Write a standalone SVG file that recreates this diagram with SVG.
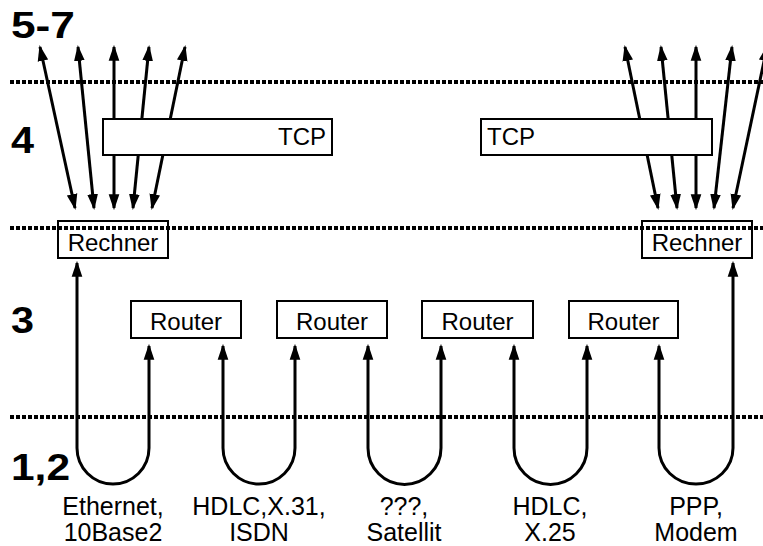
<svg xmlns="http://www.w3.org/2000/svg" width="763" height="546" viewBox="0 0 763 546">
<style>
.dot{stroke:#000;stroke-width:4;stroke-dasharray:4 2;fill:none}
.ln{stroke:#000;stroke-width:3;fill:none}
.box{stroke:#000;stroke-width:2;fill:#fff}
.boxn{stroke:#000;stroke-width:2;fill:none}
.t{font-family:"Liberation Sans",Arial,sans-serif;font-size:24px;fill:#000}
.lb{font-family:"Liberation Sans",Arial,sans-serif;font-size:25px;fill:#000}
.lv{font-family:"Liberation Sans",Arial,sans-serif;font-size:37px;font-weight:bold;fill:#000}
</style>
<defs>
<marker id="ah" markerUnits="userSpaceOnUse" markerWidth="16" markerHeight="12" refX="13" refY="5" orient="auto-start-reverse" viewBox="0 0 15 10">
<path d="M0,0 L15,5 L0,10 z" fill="#000"/>
</marker>
</defs>
<rect width="763" height="546" fill="#fff"/>
<g id="levels">
<text class="lv" x="11" y="38" textLength="64" lengthAdjust="spacingAndGlyphs">5-7</text>
<text class="lv" x="11" y="153" textLength="23" lengthAdjust="spacingAndGlyphs">4</text>
<text class="lv" x="11" y="333" textLength="23" lengthAdjust="spacingAndGlyphs">3</text>
<text class="lv" x="11" y="480" textLength="59" lengthAdjust="spacingAndGlyphs">1,2</text>
</g>
<g id="connectors">
<line class="ln" x1="40" y1="47" x2="75" y2="208" marker-start="url(#ah)" marker-end="url(#ah)"/>
<line class="ln" x1="78" y1="47" x2="94" y2="208" marker-start="url(#ah)" marker-end="url(#ah)"/>
<line class="ln" x1="114" y1="47" x2="114" y2="208" marker-start="url(#ah)" marker-end="url(#ah)"/>
<line class="ln" x1="149" y1="47" x2="133" y2="208" marker-start="url(#ah)" marker-end="url(#ah)"/>
<line class="ln" x1="185" y1="47" x2="152" y2="208" marker-start="url(#ah)" marker-end="url(#ah)"/>
<line class="ln" x1="625" y1="47" x2="658" y2="208" marker-start="url(#ah)" marker-end="url(#ah)"/>
<line class="ln" x1="661" y1="47" x2="677" y2="208" marker-start="url(#ah)" marker-end="url(#ah)"/>
<line class="ln" x1="696" y1="47" x2="696" y2="208" marker-start="url(#ah)" marker-end="url(#ah)"/>
<line class="ln" x1="732" y1="47" x2="714" y2="208" marker-start="url(#ah)" marker-end="url(#ah)"/>
<line class="ln" x1="767" y1="47" x2="733" y2="208" marker-start="url(#ah)" marker-end="url(#ah)"/>
<path class="ln" d="M77,263 V448 A36,36 0 0 0 149,448 V346" marker-start="url(#ah)" marker-end="url(#ah)"/>
<path class="ln" d="M223,346 V448 A36,36 0 0 0 295,448 V346" marker-start="url(#ah)" marker-end="url(#ah)"/>
<path class="ln" d="M368,346 V448 A36,36 0 0 0 441,448 V346" marker-start="url(#ah)" marker-end="url(#ah)"/>
<path class="ln" d="M514,346 V448 A36,36 0 0 0 587,448 V346" marker-start="url(#ah)" marker-end="url(#ah)"/>
<path class="ln" d="M659,346 V448 A37,36 0 0 0 733,448 V263" marker-start="url(#ah)" marker-end="url(#ah)"/>
</g>
<g id="tcp-left">
<rect class="box" x="103" y="119" width="229" height="36"/>
<text class="t" x="326" y="145" text-anchor="end">TCP</text>
</g>
<g id="tcp-right">
<rect class="box" x="481" y="119" width="231" height="36"/>
<text class="t" x="487" y="145">TCP</text>
</g>
<g id="dotted-lines">
<line class="dot" x1="10" y1="82" x2="763" y2="82"/>
<line class="dot" x1="10" y1="228" x2="763" y2="228"/>
<line class="dot" x1="10" y1="417" x2="763" y2="417"/>
</g>
<g id="rechner-left">
<rect class="boxn" x="58" y="221" width="110" height="37"/>
<text class="t" x="113" y="251" text-anchor="middle">Rechner</text>
</g>
<g id="rechner-right">
<rect class="boxn" x="642" y="221" width="110" height="37"/>
<text class="t" x="697" y="251" text-anchor="middle">Rechner</text>
</g>
<g id="router1">
<rect class="box" x="131" y="301" width="110" height="37"/>
<text class="t" x="186" y="330" text-anchor="middle">Router</text>
</g>
<g id="router2">
<rect class="box" x="277" y="301" width="110" height="37"/>
<text class="t" x="332" y="330" text-anchor="middle">Router</text>
</g>
<g id="router3">
<rect class="box" x="422" y="301" width="111" height="37"/>
<text class="t" x="477.5" y="330" text-anchor="middle">Router</text>
</g>
<g id="router4">
<rect class="box" x="569" y="301" width="109" height="37"/>
<text class="t" x="623.5" y="330" text-anchor="middle">Router</text>
</g>
<g id="labels">
<text class="lb" x="113" y="515" text-anchor="middle">Ethernet,</text>
<text class="lb" x="113" y="541" text-anchor="middle">10Base2</text>
<text class="lb" x="259" y="515" text-anchor="middle">HDLC,X.31,</text>
<text class="lb" x="259" y="541" text-anchor="middle">ISDN</text>
<text class="lb" x="404" y="515" text-anchor="middle">???,</text>
<text class="lb" x="404" y="541" text-anchor="middle">Satellit</text>
<text class="lb" x="550" y="515" text-anchor="middle">HDLC,</text>
<text class="lb" x="550" y="541" text-anchor="middle">X.25</text>
<text class="lb" x="696" y="515" text-anchor="middle">PPP,</text>
<text class="lb" x="696" y="541" text-anchor="middle">Modem</text>
</g>
</svg>
